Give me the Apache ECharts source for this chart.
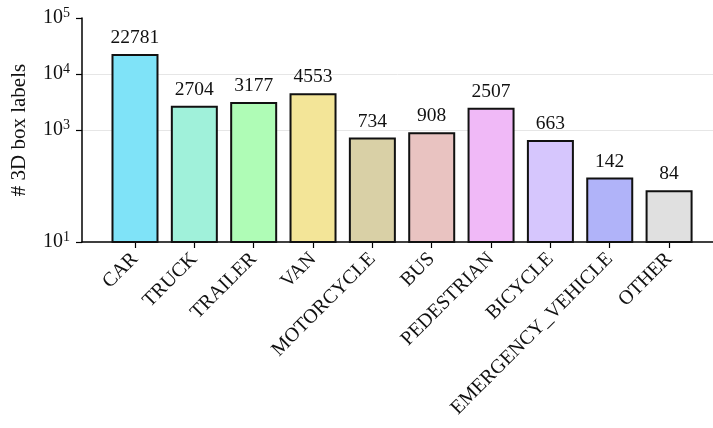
<!DOCTYPE html>
<html>
<head>
<meta charset="utf-8">
<script src="https://cdn.jsdelivr.net/npm/echarts@6/dist/echarts.min.js"></script>
<style>
  html, body { margin: 0; padding: 0; background: #fff; }
  #chart { width: 713px; height: 428px; }
</style>
</head>
<body>
<div id="chart"></div>
<script>
// 类别与数值
const categories = ['CAR', 'TRUCK', 'TRAILER', 'VAN', 'MOTORCYCLE', 'BUS', 'PEDESTRIAN', 'BICYCLE', 'EMERGENCY_VEHICLE', 'OTHER']
const counts = [22781, 2704, 3177, 4553, 734, 908, 2507, 663, 142, 84]
const barColors = ['#7fe3f8', '#a0f1da', '#affcb6', '#f3e598', '#d9d0a6', '#e9c3c1', '#f0b9f7', '#d6c6fd', '#b0b3f9', '#e0e0e0']
const yTicks = [10, 1000, 10000, 100000]
const gridValues = [1000, 10000]

const font = '"Liberation Serif", "DejaVu Serif", serif'
const myChart = echarts.init(document.getElementById('chart'))

myChart.setOption({
    animation: false,
    grid: { left: 82, right: 0, top: 18, bottom: 186 },
    xAxis: {
        type: 'value',
        min: -0.893,
        max: 9.74,
        axisLine: { show: true, onZero: false, lineStyle: { color: '#000', width: 1.5 } },
        axisTick: { show: true, customValues: categories.map((c, i) => i), length: 6, lineStyle: { color: '#000', width: 1.2 } },
        splitLine: { show: false },
        axisLabel: {
            customValues: categories.map((c, i) => i),
            formatter: v => categories[Math.round(v)],
            rotate: 45,
            margin: 14,
            color: '#111',
            fontFamily: font,
            fontSize: 20,
        },
    },
    yAxis: {
        type: 'log',
        logBase: 10,
        min: 10,
        max: 100000,
        name: '# 3D box labels',
        nameLocation: 'middle',
        nameGap: 52,
        nameTextStyle: { color: '#111', fontFamily: font, fontSize: 21 },
        axisLine: { show: true, onZero: false, lineStyle: { color: '#000', width: 1.5 } },
        axisTick: { show: true, customValues: yTicks, length: 6, lineStyle: { color: '#000', width: 1.2 } },
        splitLine: { show: false },
        axisLabel: {
            customValues: yTicks,
            margin: 12,
            formatter: v => '10{sup|' + Math.round(Math.log10(v)) + '}',
            color: '#111',
            fontFamily: font,
            fontSize: 20,
            rich: {
                sup: { fontSize: 14, fontFamily: font, color: '#111', verticalAlign: 'top', padding: [0, 0, 9, 0] },
            },
        },
    },
    series: [
        {
            type: 'bar',
            barWidth: 47,
            data: counts.map((v, i) => ({
                value: [i, v],
                itemStyle: { color: barColors[i], borderColor: '#111', borderWidth: 2 },
            })),
            label: {
                show: true,
                position: 'top',
                distance: 6,
                formatter: p => p.value[1],
                color: '#111',
                fontFamily: font,
                fontSize: 19.5,
            },
            markLine: {
                silent: true,
                symbol: 'none',
                label: { show: false },
                lineStyle: { color: '#e6e6e6', width: 1, type: 'solid' },
                z: 0,
                data: gridValues.map(v => ({ yAxis: v })),
            },
        },
    ],
})
</script>
</body>
</html>
